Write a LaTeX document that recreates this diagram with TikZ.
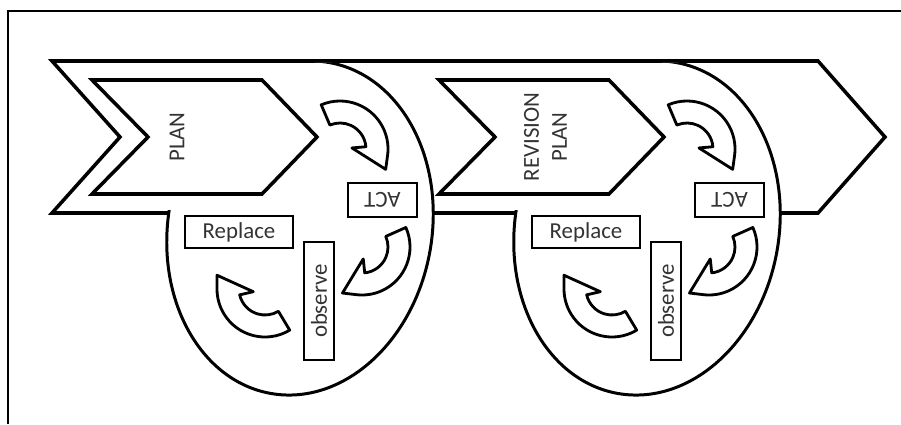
\documentclass[tikz,border=0pt]{standalone}
\usepackage{fontspec}
\setmainfont{Carlito}
\usepackage{tikz}
\usetikzlibrary{positioning}

\tikzset{
  frameline/.style={black, line width=1.6pt},
  chevron/.style={black, line width=2pt, fill=white, line join=miter},
  loop/.style={black, line width=1.7pt, fill=white},
  bent/.style={black, line width=1.6pt, fill=white, line join=round},
  tag/.style={draw=black, line width=0.9pt, fill=white, inner sep=0pt, text=black!80, font=\fontsize{13}{16}\selectfont},
  caption/.style={text=black!80, font=\fontsize{13}{16}\selectfont, align=center}
}

% curved block arrow: centre, tail angle
\newcommand{\bentarrow}[2]{%
  \draw[bent, shift={(#1)}] (#2:0.96) arc[start angle=#2, end angle=#2-120, radius=0.96]
    -- (#2-137:1.0) -- (#2-108:0.24) -- (#2-108:0.52)
    arc[start angle=#2-108, end angle=#2, radius=0.52] -- cycle;}

\begin{document}
\begin{tikzpicture}
\useasboundingbox (0,0) rectangle (18.02,8.48);
\draw [frameline] (0.16,0) -- (0.16,8.26) -- (18.02,8.26);

% big arrow
\draw [chevron] (1.04,7.26) -- (16.36,7.26) -- (17.70,5.74) -- (16.36,4.22) -- (1.04,4.22) -- (2.40,5.74) -- cycle;

\foreach \dx/\k in {0/a,6.94/b} {
\begin{scope}[xshift=\dx cm]
  \begin{scope}
    \clip (6.3,7.22) -- (9.0,7.22) -- (9.0,0.3) -- (3.0,0.3) -- (3.0,4.28) -- (6.3,4.28) -- cycle;
    \draw [loop, rotate around={-10:(6,3.92)}] (6,3.92) ellipse [x radius=2.64, y radius=3.36];
  \end{scope}
  \draw [chevron] (1.84,6.88) -- (5.24,6.88) -- (6.34,5.74) -- (5.24,4.60) -- (1.84,4.60) -- (2.96,5.74) -- cycle;

  \bentarrow{6.80,5.50}{113}
  \bentarrow{7.24,3.54}{24}
  \bentarrow{5.30,2.70}{-59}

  \node [tag, rotate=180, minimum width=1.38cm, minimum height=0.68cm] (act\k) at (7.65,4.48) {ACT};
  \node [tag, minimum width=2.16cm, minimum height=0.64cm] (replace\k) at (4.78,3.84) {Replace};
  \node [tag, rotate=90, minimum width=2.36cm, minimum height=0.60cm] (observe\k) at (6.38,2.46) {observe};
\end{scope}
}

\node [caption, rotate=90] (plan) at (3.54,5.74) {PLAN};
\node [caption, rotate=90] (revplan) at (10.91,5.74) {REVISION\\PLAN};

\end{tikzpicture}
\end{document}
